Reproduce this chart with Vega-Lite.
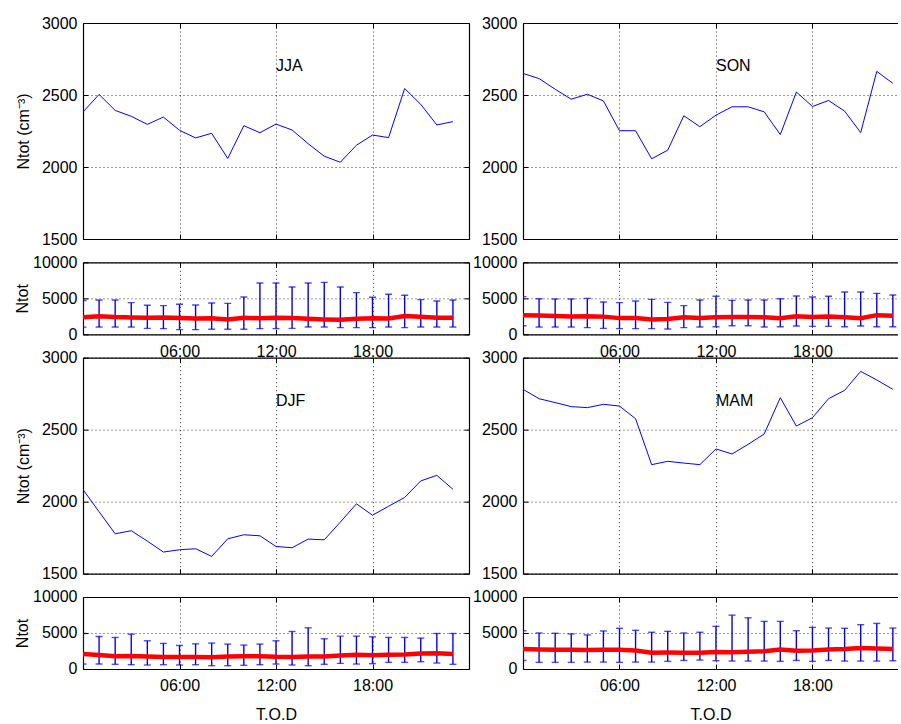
{
  "$schema": "https://vega.github.io/schema/vega-lite/v6.json",
  "padding": {"left": 14, "top": 15, "right": 0, "bottom": 0},
  "background": "white",
  "datasets": {
    "d": [
      {"season":"JJA","hour":0,"mean":2382,"lo":1000,"hi":4700},
      {"season":"JJA","hour":1,"mean":2504,"lo":1020,"hi":4770},
      {"season":"JJA","hour":2,"mean":2393,"lo":1020,"hi":4770},
      {"season":"JJA","hour":3,"mean":2352,"lo":1020,"hi":4400},
      {"season":"JJA","hour":4,"mean":2296,"lo":830,"hi":4030},
      {"season":"JJA","hour":5,"mean":2347,"lo":790,"hi":3980},
      {"season":"JJA","hour":6,"mean":2255,"lo":650,"hi":4170},
      {"season":"JJA","hour":7,"mean":2202,"lo":650,"hi":4070},
      {"season":"JJA","hour":8,"mean":2234,"lo":700,"hi":4350},
      {"season":"JJA","hour":9,"mean":2059,"lo":700,"hi":4300},
      {"season":"JJA","hour":10,"mean":2287,"lo":700,"hi":5190},
      {"season":"JJA","hour":11,"mean":2238,"lo":790,"hi":7130},
      {"season":"JJA","hour":12,"mean":2298,"lo":790,"hi":7130},
      {"season":"JJA","hour":13,"mean":2257,"lo":830,"hi":6570},
      {"season":"JJA","hour":14,"mean":2162,"lo":1020,"hi":7130},
      {"season":"JJA","hour":15,"mean":2075,"lo":1020,"hi":7220},
      {"season":"JJA","hour":16,"mean":2033,"lo":930,"hi":6570},
      {"season":"JJA","hour":17,"mean":2151,"lo":930,"hi":5790},
      {"season":"JJA","hour":18,"mean":2222,"lo":930,"hi":5140},
      {"season":"JJA","hour":19,"mean":2204,"lo":1020,"hi":5560},
      {"season":"JJA","hour":20,"mean":2545,"lo":930,"hi":5420},
      {"season":"JJA","hour":21,"mean":2435,"lo":1020,"hi":4820},
      {"season":"JJA","hour":22,"mean":2292,"lo":1020,"hi":4630},
      {"season":"JJA","hour":23,"mean":2315,"lo":1020,"hi":4770},
      {"season":"SON","hour":0,"mean":2650,"lo":1200,"hi":5230},
      {"season":"SON","hour":1,"mean":2614,"lo":1020,"hi":4950},
      {"season":"SON","hour":2,"mean":2540,"lo":1020,"hi":4900},
      {"season":"SON","hour":3,"mean":2471,"lo":1020,"hi":4900},
      {"season":"SON","hour":4,"mean":2505,"lo":930,"hi":5000},
      {"season":"SON","hour":5,"mean":2459,"lo":830,"hi":4490},
      {"season":"SON","hour":6,"mean":2252,"lo":790,"hi":4400},
      {"season":"SON","hour":7,"mean":2252,"lo":790,"hi":4630},
      {"season":"SON","hour":8,"mean":2057,"lo":790,"hi":4860},
      {"season":"SON","hour":9,"mean":2117,"lo":740,"hi":4440},
      {"season":"SON","hour":10,"mean":2356,"lo":930,"hi":3980},
      {"season":"SON","hour":11,"mean":2280,"lo":1020,"hi":4770},
      {"season":"SON","hour":12,"mean":2360,"lo":1060,"hi":5280},
      {"season":"SON","hour":13,"mean":2418,"lo":1200,"hi":4720},
      {"season":"SON","hour":14,"mean":2418,"lo":1200,"hi":4770},
      {"season":"SON","hour":15,"mean":2383,"lo":1020,"hi":4770},
      {"season":"SON","hour":16,"mean":2225,"lo":1060,"hi":4950},
      {"season":"SON","hour":17,"mean":2521,"lo":1160,"hi":5320},
      {"season":"SON","hour":18,"mean":2420,"lo":1110,"hi":5190},
      {"season":"SON","hour":19,"mean":2462,"lo":1110,"hi":5280},
      {"season":"SON","hour":20,"mean":2388,"lo":1060,"hi":5880},
      {"season":"SON","hour":21,"mean":2239,"lo":1160,"hi":5880},
      {"season":"SON","hour":22,"mean":2664,"lo":1060,"hi":5690},
      {"season":"SON","hour":23,"mean":2581,"lo":1060,"hi":5460},
      {"season":"DJF","hour":0,"mean":2084,"lo":690,"hi":4930},
      {"season":"DJF","hour":1,"mean":1930,"lo":690,"hi":4520},
      {"season":"DJF","hour":2,"mean":1777,"lo":650,"hi":4380},
      {"season":"DJF","hour":3,"mean":1798,"lo":600,"hi":4840},
      {"season":"DJF","hour":4,"mean":1726,"lo":550,"hi":3920},
      {"season":"DJF","hour":5,"mean":1650,"lo":600,"hi":3550},
      {"season":"DJF","hour":6,"mean":1666,"lo":550,"hi":3270},
      {"season":"DJF","hour":7,"mean":1673,"lo":600,"hi":3500},
      {"season":"DJF","hour":8,"mean":1620,"lo":460,"hi":3600},
      {"season":"DJF","hour":9,"mean":1742,"lo":460,"hi":3460},
      {"season":"DJF","hour":10,"mean":1770,"lo":510,"hi":3320},
      {"season":"DJF","hour":11,"mean":1763,"lo":600,"hi":3460},
      {"season":"DJF","hour":12,"mean":1689,"lo":690,"hi":3920},
      {"season":"DJF","hour":13,"mean":1680,"lo":550,"hi":5210},
      {"season":"DJF","hour":14,"mean":1740,"lo":460,"hi":5720},
      {"season":"DJF","hour":15,"mean":1735,"lo":650,"hi":4200},
      {"season":"DJF","hour":16,"mean":1858,"lo":780,"hi":4560},
      {"season":"DJF","hour":17,"mean":1985,"lo":690,"hi":4560},
      {"season":"DJF","hour":18,"mean":1906,"lo":740,"hi":4470},
      {"season":"DJF","hour":19,"mean":1968,"lo":920,"hi":4380},
      {"season":"DJF","hour":20,"mean":2029,"lo":920,"hi":4380},
      {"season":"DJF","hour":21,"mean":2144,"lo":1010,"hi":4290},
      {"season":"DJF","hour":22,"mean":2183,"lo":830,"hi":4930},
      {"season":"DJF","hour":23,"mean":2086,"lo":650,"hi":4930},
      {"season":"MAM","hour":0,"mean":2780,"lo":1190,"hi":5320},
      {"season":"MAM","hour":1,"mean":2715,"lo":920,"hi":5000},
      {"season":"MAM","hour":2,"mean":2688,"lo":920,"hi":4960},
      {"season":"MAM","hour":3,"mean":2660,"lo":920,"hi":4870},
      {"season":"MAM","hour":4,"mean":2653,"lo":960,"hi":4730},
      {"season":"MAM","hour":5,"mean":2676,"lo":960,"hi":5280},
      {"season":"MAM","hour":6,"mean":2664,"lo":920,"hi":5650},
      {"season":"MAM","hour":7,"mean":2576,"lo":960,"hi":5370},
      {"season":"MAM","hour":8,"mean":2257,"lo":960,"hi":5100},
      {"season":"MAM","hour":9,"mean":2280,"lo":1060,"hi":5230},
      {"season":"MAM","hour":10,"mean":2268,"lo":1190,"hi":5000},
      {"season":"MAM","hour":11,"mean":2257,"lo":1240,"hi":5100},
      {"season":"MAM","hour":12,"mean":2366,"lo":1150,"hi":5920},
      {"season":"MAM","hour":13,"mean":2331,"lo":1100,"hi":7480},
      {"season":"MAM","hour":14,"mean":2398,"lo":1100,"hi":7110},
      {"season":"MAM","hour":15,"mean":2470,"lo":1100,"hi":6610},
      {"season":"MAM","hour":16,"mean":2722,"lo":1060,"hi":6610},
      {"season":"MAM","hour":17,"mean":2525,"lo":1190,"hi":5320},
      {"season":"MAM","hour":18,"mean":2583,"lo":1060,"hi":5780},
      {"season":"MAM","hour":19,"mean":2715,"lo":1190,"hi":5690},
      {"season":"MAM","hour":20,"mean":2773,"lo":1100,"hi":5650},
      {"season":"MAM","hour":21,"mean":2905,"lo":1100,"hi":6150},
      {"season":"MAM","hour":22,"mean":2845,"lo":1100,"hi":6330},
      {"season":"MAM","hour":23,"mean":2780,"lo":1150,"hi":5690}
    ]
  },
  "concat": [
    {
      "width": 386, "height": 216,
      "layer": [
        {
          "data": {"name": "d"},
          "transform": [{"filter": "datum.season === 'JJA'"}],
          "mark": {"type": "line", "color": "#0000ff", "strokeWidth": 1, "clip": true},
          "encoding": {
            "x": {"field": "hour", "type": "quantitative", "scale": {"domain": [0, 24], "nice": false, "zero": false}, "axis": {"orient": "bottom", "values": [6, 12, 18], "labels": false, "grid": true, "title": null}},
            "y": {"field": "mean", "type": "quantitative", "scale": {"domain": [1500, 3000], "nice": false, "zero": false}, "axis": {"orient": "left", "values": [1500, 2000, 2500, 3000], "title": "Ntot (cm⁻³)", "titlePadding": 10}}
          }
        },
        {
          "data": {"values": [{"label": "JJA"}]},
          "mark": {"type": "text", "align": "left", "baseline": "middle", "fontSize": 16, "font": "Liberation Sans", "color": "black"},
          "encoding": {
            "text": {"field": "label"},
            "x": {"datum": 12, "type": "quantitative", "axis": {"orient": "top", "values": [6, 12, 18], "labels": false, "grid": false, "title": null}},
            "y": {"datum": 2700, "type": "quantitative", "axis": {"orient": "right", "values": [1500, 2000, 2500, 3000], "labels": false, "title": null}}
          }
        }
      ],
      "resolve": {"axis": {"x": "independent", "y": "independent"}}
    },
    {
      "width": 375, "height": 216,
      "layer": [
        {
          "data": {"name": "d"},
          "transform": [{"filter": "datum.season === 'SON'"}],
          "mark": {"type": "line", "color": "#0000ff", "strokeWidth": 1, "clip": true},
          "encoding": {
            "x": {"field": "hour", "type": "quantitative", "scale": {"domain": [0, 23.32], "nice": false, "zero": false}, "axis": {"orient": "bottom", "values": [6, 12, 18], "labels": false, "grid": true, "title": null}},
            "y": {"field": "mean", "type": "quantitative", "scale": {"domain": [1500, 3000], "nice": false, "zero": false}, "axis": {"orient": "left", "values": [1500, 2000, 2500, 3000], "title": null}}
          }
        },
        {
          "data": {"values": [{"label": "SON"}]},
          "mark": {"type": "text", "align": "left", "baseline": "middle", "fontSize": 16, "font": "Liberation Sans", "color": "black"},
          "encoding": {
            "text": {"field": "label"},
            "x": {"datum": 12, "type": "quantitative", "axis": {"orient": "top", "values": [6, 12, 18], "labels": false, "grid": false, "title": null}},
            "y": {"datum": 2700, "type": "quantitative", "axis": null}
          }
        }
      ],
      "resolve": {"axis": {"x": "independent", "y": "independent"}}
    },
    {
      "width": 386, "height": 72,
      "data": {"name": "d"},
      "transform": [{"filter": "datum.season === 'JJA'"}],
      "layer": [
        {
          "mark": {"type": "rule", "color": "#0000ff", "strokeWidth": 1.4, "clip": true},
          "encoding": {
            "x": {"field": "hour", "type": "quantitative", "scale": {"domain": [0, 24], "nice": false, "zero": false}, "axis": {"orient": "bottom", "values": [6, 12, 18], "labels": true, "labelExpr": "(datum.value < 10 ? '0' : '') + datum.value + ':00'", "grid": true, "title": null}},
            "y": {"field": "lo", "type": "quantitative", "scale": {"domain": [0, 10000], "nice": false, "zero": false}, "axis": {"orient": "left", "values": [0, 5000, 10000], "title": "Ntot", "titlePadding": 2}},
            "y2": {"field": "hi"}
          }
        },
        {
          "mark": {"type": "tick", "orient": "horizontal", "color": "#0000ff", "size": 7, "thickness": 1.4, "clip": true},
          "encoding": {
            "x": {"field": "hour", "type": "quantitative", "axis": null},
            "y": {"field": "hi", "type": "quantitative", "axis": null}
          }
        },
        {
          "mark": {"type": "tick", "orient": "horizontal", "color": "#0000ff", "size": 7, "thickness": 1.4, "clip": true},
          "encoding": {
            "x": {"field": "hour", "type": "quantitative", "axis": null},
            "y": {"field": "lo", "type": "quantitative", "axis": null}
          }
        },
        {
          "mark": {"type": "line", "color": "#ff0000", "strokeWidth": 4.5, "clip": true},
          "encoding": {
            "x": {"field": "hour", "type": "quantitative", "axis": {"orient": "top", "values": [6, 12, 18], "labels": false, "grid": false, "title": null}},
            "y": {"field": "mean", "type": "quantitative", "axis": {"orient": "right", "values": [0, 5000, 10000], "labels": false, "title": null}}
          }
        }
      ],
      "resolve": {"axis": {"x": "independent", "y": "independent"}}
    },
    {
      "width": 375, "height": 72,
      "data": {"name": "d"},
      "transform": [{"filter": "datum.season === 'SON'"}],
      "layer": [
        {
          "mark": {"type": "rule", "color": "#0000ff", "strokeWidth": 1.4, "clip": true},
          "encoding": {
            "x": {"field": "hour", "type": "quantitative", "scale": {"domain": [0, 23.32], "nice": false, "zero": false}, "axis": {"orient": "bottom", "values": [6, 12, 18], "labels": true, "labelExpr": "(datum.value < 10 ? '0' : '') + datum.value + ':00'", "grid": true, "title": null}},
            "y": {"field": "lo", "type": "quantitative", "scale": {"domain": [0, 10000], "nice": false, "zero": false}, "axis": {"orient": "left", "values": [0, 5000, 10000], "title": null}},
            "y2": {"field": "hi"}
          }
        },
        {
          "mark": {"type": "tick", "orient": "horizontal", "color": "#0000ff", "size": 7, "thickness": 1.4, "clip": true},
          "encoding": {
            "x": {"field": "hour", "type": "quantitative", "axis": null},
            "y": {"field": "hi", "type": "quantitative", "axis": null}
          }
        },
        {
          "mark": {"type": "tick", "orient": "horizontal", "color": "#0000ff", "size": 7, "thickness": 1.4, "clip": true},
          "encoding": {
            "x": {"field": "hour", "type": "quantitative", "axis": null},
            "y": {"field": "lo", "type": "quantitative", "axis": null}
          }
        },
        {
          "mark": {"type": "line", "color": "#ff0000", "strokeWidth": 4.5, "clip": true},
          "encoding": {
            "x": {"field": "hour", "type": "quantitative", "axis": {"orient": "top", "values": [6, 12, 18], "labels": false, "grid": false, "title": null}},
            "y": {"field": "mean", "type": "quantitative", "axis": null}
          }
        }
      ],
      "resolve": {"axis": {"x": "independent", "y": "independent"}}
    },
    {
      "width": 386, "height": 216,
      "layer": [
        {
          "data": {"name": "d"},
          "transform": [{"filter": "datum.season === 'DJF'"}],
          "mark": {"type": "line", "color": "#0000ff", "strokeWidth": 1, "clip": true},
          "encoding": {
            "x": {"field": "hour", "type": "quantitative", "scale": {"domain": [0, 24], "nice": false, "zero": false}, "axis": {"orient": "bottom", "values": [6, 12, 18], "labels": false, "grid": true, "title": null}},
            "y": {"field": "mean", "type": "quantitative", "scale": {"domain": [1500, 3000], "nice": false, "zero": false}, "axis": {"orient": "left", "values": [1500, 2000, 2500, 3000], "title": "Ntot (cm⁻³)", "titlePadding": 10}}
          }
        },
        {
          "data": {"values": [{"label": "DJF"}]},
          "mark": {"type": "text", "align": "left", "baseline": "middle", "fontSize": 16, "font": "Liberation Sans", "color": "black"},
          "encoding": {
            "text": {"field": "label"},
            "x": {"datum": 12, "type": "quantitative", "axis": {"orient": "top", "values": [6, 12, 18], "labels": false, "grid": false, "title": null}},
            "y": {"datum": 2700, "type": "quantitative", "axis": {"orient": "right", "values": [1500, 2000, 2500, 3000], "labels": false, "title": null}}
          }
        }
      ],
      "resolve": {"axis": {"x": "independent", "y": "independent"}}
    },
    {
      "width": 375, "height": 216,
      "layer": [
        {
          "data": {"name": "d"},
          "transform": [{"filter": "datum.season === 'MAM'"}],
          "mark": {"type": "line", "color": "#0000ff", "strokeWidth": 1, "clip": true},
          "encoding": {
            "x": {"field": "hour", "type": "quantitative", "scale": {"domain": [0, 23.32], "nice": false, "zero": false}, "axis": {"orient": "bottom", "values": [6, 12, 18], "labels": false, "grid": true, "title": null}},
            "y": {"field": "mean", "type": "quantitative", "scale": {"domain": [1500, 3000], "nice": false, "zero": false}, "axis": {"orient": "left", "values": [1500, 2000, 2500, 3000], "title": null}}
          }
        },
        {
          "data": {"values": [{"label": "MAM"}]},
          "mark": {"type": "text", "align": "left", "baseline": "middle", "fontSize": 16, "font": "Liberation Sans", "color": "black"},
          "encoding": {
            "text": {"field": "label"},
            "x": {"datum": 12, "type": "quantitative", "axis": {"orient": "top", "values": [6, 12, 18], "labels": false, "grid": false, "title": null}},
            "y": {"datum": 2700, "type": "quantitative", "axis": null}
          }
        }
      ],
      "resolve": {"axis": {"x": "independent", "y": "independent"}}
    },
    {
      "width": 386, "height": 72,
      "data": {"name": "d"},
      "transform": [{"filter": "datum.season === 'DJF'"}],
      "layer": [
        {
          "mark": {"type": "rule", "color": "#0000ff", "strokeWidth": 1.4, "clip": true},
          "encoding": {
            "x": {"field": "hour", "type": "quantitative", "scale": {"domain": [0, 24], "nice": false, "zero": false}, "axis": {"orient": "bottom", "values": [6, 12, 18], "labels": true, "labelExpr": "(datum.value < 10 ? '0' : '') + datum.value + ':00'", "grid": true, "title": "T.O.D"}},
            "y": {"field": "lo", "type": "quantitative", "scale": {"domain": [0, 10000], "nice": false, "zero": false}, "axis": {"orient": "left", "values": [0, 5000, 10000], "title": "Ntot", "titlePadding": 2}},
            "y2": {"field": "hi"}
          }
        },
        {
          "mark": {"type": "tick", "orient": "horizontal", "color": "#0000ff", "size": 7, "thickness": 1.4, "clip": true},
          "encoding": {
            "x": {"field": "hour", "type": "quantitative", "axis": null},
            "y": {"field": "hi", "type": "quantitative", "axis": null}
          }
        },
        {
          "mark": {"type": "tick", "orient": "horizontal", "color": "#0000ff", "size": 7, "thickness": 1.4, "clip": true},
          "encoding": {
            "x": {"field": "hour", "type": "quantitative", "axis": null},
            "y": {"field": "lo", "type": "quantitative", "axis": null}
          }
        },
        {
          "mark": {"type": "line", "color": "#ff0000", "strokeWidth": 4.5, "clip": true},
          "encoding": {
            "x": {"field": "hour", "type": "quantitative", "axis": {"orient": "top", "values": [6, 12, 18], "labels": false, "grid": false, "title": null}},
            "y": {"field": "mean", "type": "quantitative", "axis": {"orient": "right", "values": [0, 5000, 10000], "labels": false, "title": null}}
          }
        }
      ],
      "resolve": {"axis": {"x": "independent", "y": "independent"}}
    },
    {
      "width": 375, "height": 72,
      "data": {"name": "d"},
      "transform": [{"filter": "datum.season === 'MAM'"}],
      "layer": [
        {
          "mark": {"type": "rule", "color": "#0000ff", "strokeWidth": 1.4, "clip": true},
          "encoding": {
            "x": {"field": "hour", "type": "quantitative", "scale": {"domain": [0, 23.32], "nice": false, "zero": false}, "axis": {"orient": "bottom", "values": [6, 12, 18], "labels": true, "labelExpr": "(datum.value < 10 ? '0' : '') + datum.value + ':00'", "grid": true, "title": "T.O.D"}},
            "y": {"field": "lo", "type": "quantitative", "scale": {"domain": [0, 10000], "nice": false, "zero": false}, "axis": {"orient": "left", "values": [0, 5000, 10000], "title": null}},
            "y2": {"field": "hi"}
          }
        },
        {
          "mark": {"type": "tick", "orient": "horizontal", "color": "#0000ff", "size": 7, "thickness": 1.4, "clip": true},
          "encoding": {
            "x": {"field": "hour", "type": "quantitative", "axis": null},
            "y": {"field": "hi", "type": "quantitative", "axis": null}
          }
        },
        {
          "mark": {"type": "tick", "orient": "horizontal", "color": "#0000ff", "size": 7, "thickness": 1.4, "clip": true},
          "encoding": {
            "x": {"field": "hour", "type": "quantitative", "axis": null},
            "y": {"field": "lo", "type": "quantitative", "axis": null}
          }
        },
        {
          "mark": {"type": "line", "color": "#ff0000", "strokeWidth": 4.5, "clip": true},
          "encoding": {
            "x": {"field": "hour", "type": "quantitative", "axis": {"orient": "top", "values": [6, 12, 18], "labels": false, "grid": false, "title": null}},
            "y": {"field": "mean", "type": "quantitative", "axis": null}
          }
        }
      ],
      "resolve": {"axis": {"x": "independent", "y": "independent"}}
    }
  ],
  "columns": 2,
  "spacing": {"row": 23.33, "column": 54},
  "bounds": "flush",
  "config": {
    "view": {"stroke": null},
    "font": "Liberation Sans",
    "axis": {
      "domainColor": "black", "domainWidth": 1.2, "tickColor": "black", "tickSize": -5, "tickWidth": 1,
      "labelColor": "black", "labelFont": "Liberation Sans", "labelFontSize": 16, "labelPadding": 11,
      "titleFont": "Liberation Sans", "titleFontSize": 16, "titleFontWeight": "normal", "titleColor": "black",
      "gridColor": "black", "gridDash": [1, 3], "gridWidth": 1, "gridOpacity": 0.8, "format": "d"
    },
    "axisX": {"labelPadding": 14, "titlePadding": 13}
  }
}
